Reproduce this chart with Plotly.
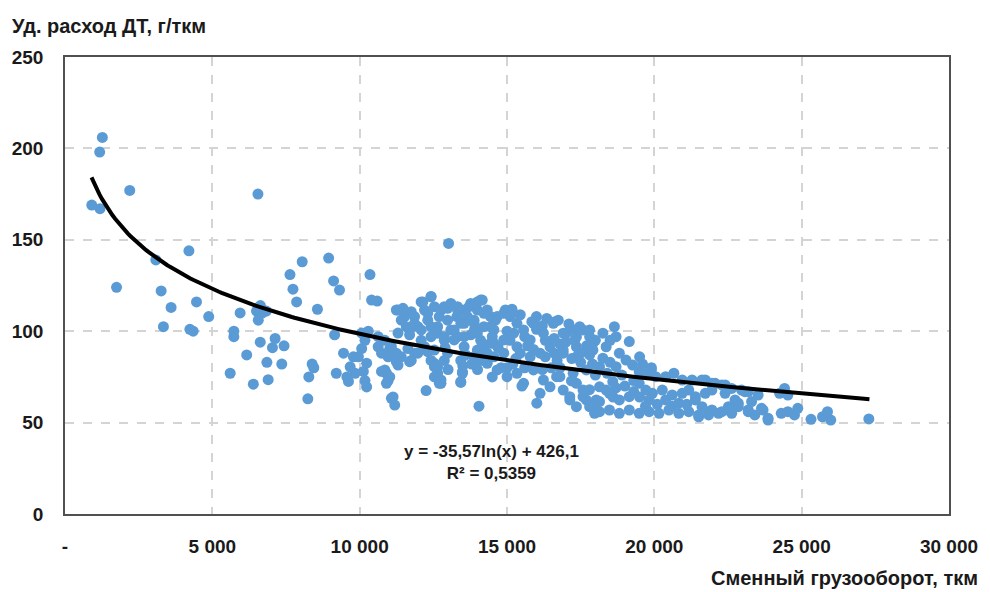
import numpy as np
import plotly.graph_objects as go

# ---- data ----
left_x = [908, 1177, 1268, 1188, 2197, 6548, 4205, 3083, 1749, 3263, 3600, 4463, 4877, 5943, 6560, 6590,
          3340, 4238, 4350, 6500, 6630, 6700, 6560, 6830, 7635, 8050, 8947, 9115, 9316, 7736, 7860, 8567,
          5730, 5730, 6626, 7131, 7040, 7433, 6166, 6851, 7356, 5606, 6895, 6391, 8241, 8386, 8443, 8275,
          9149, 9452, 9206, 9788, 9677, 9845, 9620, 9565]
left_y = [169, 198, 206, 167, 177, 175, 144, 139, 124, 122, 113, 116, 108, 110, 113, 110,
          102.5, 101, 100, 111, 114, 110, 106, 111, 131, 138, 140, 127.5, 122.5, 123, 116, 112,
          100, 97, 94, 96, 91, 92, 87, 83, 82, 77, 73.5, 71, 63, 82, 80, 75,
          98, 88, 77, 86, 80.5, 77, 72.5, 75]

mid_x = [13017, 10350, 10404, 10595, 10068, 10293, 10180, 10068, 9957, 10237, 10125, 10180, 10237,
         10629, 10741, 10853, 11022, 10741, 10909, 10965, 11134, 11190, 11245, 11470, 11750, 11862, 11413,
         11582, 11302, 11695, 11975, 11245, 11413, 11695, 11975, 12200, 12087, 12255,
         10629, 11077, 10965, 11245, 10853, 11022, 10909, 11077, 11638, 11750, 11862, 11302,
         12311, 12536, 12647, 12759, 12703, 12536, 13488, 13432, 14049,
         12423, 12143, 12311, 11302, 11525, 11862, 11694, 12087, 12423, 12647]
mid_y = [148, 131, 117, 116.5, 99, 100, 95, 90.5, 86, 82.5, 78, 73, 69.5,
         91.5, 88, 95, 90.5, 78, 77, 73, 64, 59.6, 111.6, 112.5, 110.7, 108, 106,
         102.5, 99, 98, 102.5, 88, 86, 83.3, 88, 91.5, 95, 67.5,
         97, 91.5, 86, 83.3, 78.8, 75, 71.5, 63.3, 90.5, 84, 88, 81.5,
         88.8, 80.6, 77, 73.3, 71.5, 82.4, 77.8, 72.4, 59,
         119, 116, 109.8, 111.6, 108, 104.3, 100.7, 100.7, 102.5, 98.9]

dense_x = [12087, 12423, 12200, 12536, 12759, 12983, 13095, 13320, 13545, 13713, 13993, 14161, 14329, 14441, 14609,
           12311, 12647, 12983, 13207, 13545, 13882, 14218, 14554, 12423, 12872, 13320, 13768, 14105, 14441,
           12536, 12983, 13545, 13993, 14329, 12423, 12647, 12872, 13432, 13882, 14218, 14554,
           12536, 12759, 13488, 13432,
           12872, 13320, 13768, 13993, 13656, 14105, 14218, 13882, 13432, 13095, 12872, 13207, 13545, 13993,
           14441, 14666, 14890, 15113, 15338, 15563, 15226, 14890, 14554, 14218, 13993, 14441, 14890, 15338,
           15786, 15899, 16235, 16571, 16907, 17244, 17580, 17804, 17916, 17356, 16907, 16459, 16122, 15786,
           15450, 14946, 15843, 16627, 15170, 15450, 16000, 16350,
           14329, 14666, 15002, 15338, 15563, 15899, 16235, 16122, 16011, 16459, 16683, 16907, 17131, 17356,
           17580, 17692, 17916, 17972, 15506,
           15000, 15600, 16000, 16600, 17100, 16200, 15600, 15200, 14800, 14000, 13800, 16500, 16700, 17000, 16300,
           12700, 13300, 13900, 14500, 15100, 15700, 16300, 16800, 17300, 17700, 12900, 13600, 14100, 14700,
           15300, 15900, 16600, 17500, 18000, 18500, 19500, 19900, 13000, 13500, 14500, 15000, 16200, 16800,
           17200, 17900]
dense_y = [116, 118.8, 111.6, 113.4, 111.6, 112.5, 115.2, 113.4, 111.6, 113.4, 116, 117, 111.6, 108, 106,
           106, 102.5, 106, 100.7, 104.3, 106, 102.5, 100.7, 97, 95, 97, 98, 95, 93.4,
           89.7, 88, 91.5, 89.7, 88, 84, 80.5, 84, 84, 86, 84, 86,
           75, 71.5, 77, 72,
           113.4, 111.6, 115.2, 111.6, 108, 117, 109.8, 104.3, 104.3, 100.7, 97, 95.2, 97, 98.9,
           102.5, 108, 109.8, 108, 104.3, 100.7, 98.9, 95.2, 93.4, 91.5, 88, 86, 88, 91.5,
           95.2, 104.3, 98.9, 104.3, 98.9, 100.7, 100.7, 97, 89.7, 91.5, 89.7, 91.5, 88, 86,
           88, 111.6, 105.2, 105.2, 112, 109, 108, 107,
           82.4, 78.8, 75.1, 77, 71.5, 78.8, 73.3, 66, 60.6, 69.6, 75.1, 67.8, 64.2, 71.5,
           67.8, 62.4, 58.7, 55.1, 70,
           100, 97, 101, 96, 104, 103, 80, 82, 80, 79, 82, 80, 84, 94, 95,
           108, 108, 101, 97, 95, 92, 86, 93, 95, 92, 91, 87, 84, 91,
           85, 90, 88, 88, 95, 95, 86, 79, 79, 81, 75, 80, 79, 80,
           85, 82]

right_x = [16740, 17467, 17804, 18254, 18644, 18701, 19150, 18365, 17916, 17356, 17020,
           16907, 17356, 17804, 18254, 18813, 19038, 19262, 18701, 18140, 17692, 17244, 16795, 17188,
           18589, 18365, 18140,
           19486, 19767, 20047, 20383, 20663, 20945, 21281, 21617, 21954, 22290, 22626, 22963, 23187, 23523,
           19486, 19711, 19935, 20271, 20607, 20945, 21169, 21393, 21729, 21954, 22402, 22738, 19823, 20383, 20831,
           17804, 18140, 18477, 18813, 19150, 19486, 19823, 20159, 20495, 20831, 21169, 21505, 21841, 22178,
           22514, 22850, 23187, 23411, 23690, 23859, 18029, 17580, 17131, 17356, 18140, 18477, 18813, 19150,
           18000, 18400, 18900, 19300, 18700, 19000, 19300, 18600, 19500, 17800, 19700, 20100, 20600, 21100,
           17500, 18500, 19600, 19900,
           21729, 22065, 22402, 23074, 24419, 24531, 24251, 21393, 21617, 21954, 22290, 22626, 22850, 23187,
           23300, 23636, 23859, 24307, 24531, 24756, 24868, 25317, 25708, 25876, 25988, 27279, 21505, 21841, 22514]
right_y = [106, 102.5, 100.7, 98.9, 102.5, 97, 94.3, 91.5, 93.4, 97, 98.9,
           88, 86, 87, 85.2, 88, 84.2, 81.5, 80.6, 80.6, 78.8, 77, 75.1, 72.8,
           72.4, 67.8, 69.6,
           77.8, 77, 75.1, 75.1, 77, 73.3, 73.3, 73.3, 71.5, 70.6, 68.7, 67.8, 66.9, 65.1,
           71.5, 67.8, 66, 67.8, 65.1, 66, 67.8, 64.2, 66, 67.8, 66, 62.4, 62.4, 62.4, 60.6,
           58.7, 56, 56.9, 55.1, 56.9, 55.1, 56, 55.1, 56.9, 55.1, 56, 54.2, 56, 55.1,
           56.9, 58.7, 56.9, 54.2, 56.9, 52.4, 62.4, 64.2, 62.4, 58.7, 61.5, 66, 62.4, 64.2,
           76, 77, 76, 73, 69, 70, 67, 64, 64, 68, 59, 60, 59, 60,
           83, 83, 82, 80,
           73.3, 71.5, 70.6, 66.9, 68.7, 65.1, 66, 62.4, 58.7, 56.9, 56, 55.1, 60.6, 56,
           61.5, 57.8, 51.4, 55.1, 56, 54.2, 57.8, 51.8, 53.2, 56, 51.4, 52, 53.2, 54.2, 58.7]

x_vals = left_x + mid_x + dense_x + right_x
y_vals = left_y + mid_y + dense_y + right_y

# logarithmic trend line shown on the chart: y = -35,57 ln(x) + 426,1
trend_a = -35.57
trend_b = 426.1
trend_x0, trend_x1 = 900, 27300

x_tickvals = [0, 5000, 10000, 15000, 20000, 25000, 30000]
x_ticktext = ["-", "5 000", "10 000", "15 000", "20 000", "25 000", "30 000"]
y_tickvals = [0, 50, 100, 150, 200, 250]

FONT = "Liberation Sans"
TXT = "#1a1a1a"

tx = np.linspace(trend_x0, trend_x1, 300)
ty = trend_a * np.log(tx) + trend_b

fig = go.Figure()
fig.add_trace(go.Scatter(x=x_vals, y=y_vals, mode="markers",
                         marker=dict(size=11, color="#5B9BD5", line=dict(width=0)),
                         showlegend=False, hoverinfo="x+y"))
fig.add_trace(go.Scatter(x=tx, y=ty, mode="lines",
                         line=dict(color="#000000", width=4), showlegend=False, hoverinfo="skip"))

fig.update_layout(
    width=990, height=592,
    margin=dict(l=64, r=34, t=57, b=78),
    paper_bgcolor="white", plot_bgcolor="white",
    font=dict(family=FONT, color=TXT),
)
fig.update_xaxes(range=[0, 30000], tickvals=x_tickvals, ticktext=x_ticktext,
                 showgrid=True, gridcolor="#D4D4D4", griddash="dash", gridwidth=1.5,
                 showline=True, linecolor="#505050", linewidth=1.5, mirror=True,
                 zeroline=False, ticks="", ticklabelstandoff=14,
                 tickfont=dict(family=FONT, size=19, weight="bold", color=TXT))
fig.update_yaxes(range=[0, 250], tickvals=y_tickvals,
                 showgrid=True, gridcolor="#D4D4D4", griddash="dash", gridwidth=1.5,
                 showline=True, linecolor="#505050", linewidth=1.5, mirror=True,
                 zeroline=False, ticks="", ticklabelstandoff=16,
                 tickfont=dict(family=FONT, size=19, weight="bold", color=TXT))

fig.add_annotation(xref="paper", yref="paper", x=-56/892, y=1 + 31/457, xanchor="left", yanchor="middle",
                   text="Уд. расход ДТ, г/ткм", showarrow=False,
                   font=dict(family=FONT, size=20, weight="bold", color=TXT))
fig.add_annotation(xref="paper", yref="paper", x=(987-64)/892, y=-(578-514)/457, xanchor="right", yanchor="middle",
                   text="Сменный грузооборот, ткм", showarrow=False,
                   font=dict(family=FONT, size=20, weight="bold", color=TXT))
fig.add_annotation(xref="paper", yref="paper", x=(494-64)/892, y=(514-462)/457, xanchor="center", yanchor="middle",
                   text="y = -35,57ln(x) + 426,1<br>R² = 0,5359", showarrow=False, align="center",
                   font=dict(family=FONT, size=17, weight="bold", color=TXT))

fig.write_html("out.html")
